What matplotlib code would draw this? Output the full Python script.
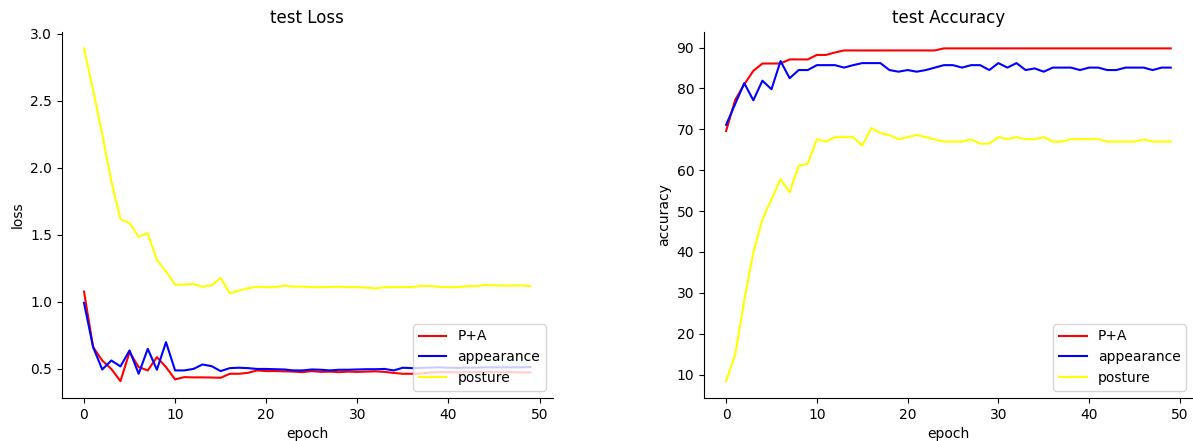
import matplotlib
matplotlib.use('Agg')
import matplotlib.pyplot as plt
import numpy as np

epochs = np.arange(50)

# test loss
loss_pa = [1.077, 0.663, 0.563, 0.50, 0.409, 0.625, 0.514, 0.489, 0.588, 0.514,
           0.422, 0.439, 0.437, 0.437, 0.436, 0.434, 0.464, 0.464, 0.471, 0.489,
           0.484, 0.484, 0.482, 0.480, 0.476, 0.484, 0.478, 0.480, 0.476, 0.480,
           0.478, 0.480, 0.482, 0.478, 0.470, 0.464, 0.464, 0.466, 0.474, 0.476,
           0.476, 0.474, 0.476, 0.476, 0.478, 0.476, 0.476, 0.476, 0.474, 0.474]
loss_app = [0.993, 0.663, 0.496, 0.563, 0.519, 0.638, 0.464, 0.650, 0.494, 0.700,
            0.489, 0.489, 0.500, 0.533, 0.521, 0.484, 0.506, 0.509, 0.506, 0.500,
            0.500, 0.498, 0.496, 0.489, 0.489, 0.496, 0.494, 0.489, 0.494, 0.494,
            0.496, 0.498, 0.498, 0.500, 0.489, 0.509, 0.506, 0.508, 0.510, 0.512,
            0.509, 0.508, 0.510, 0.510, 0.512, 0.512, 0.512, 0.512, 0.512, 0.514]
loss_pos = [2.891, 2.58, 2.25, 1.90, 1.618, 1.588, 1.486, 1.511, 1.313, 1.228,
            1.129, 1.129, 1.134, 1.114, 1.124, 1.179, 1.065, 1.084, 1.102, 1.112,
            1.110, 1.110, 1.122, 1.114, 1.114, 1.110, 1.110, 1.112, 1.114, 1.110,
            1.110, 1.107, 1.100, 1.110, 1.110, 1.112, 1.110, 1.119, 1.119, 1.112,
            1.110, 1.110, 1.117, 1.117, 1.127, 1.124, 1.122, 1.122, 1.124, 1.117]

# test accuracy
acc_pa = [69.6, 77.2, 81.0, 84.3, 86.1, 86.1, 86.1, 87.1, 87.1, 87.1,
          88.2, 88.2, 88.8, 89.3, 89.3, 89.3, 89.3, 89.3, 89.3, 89.3,
          89.3, 89.3, 89.3, 89.3, 89.8, 89.8, 89.8, 89.8, 89.8, 89.8,
          89.8, 89.8, 89.8, 89.8, 89.8, 89.8, 89.8, 89.8, 89.8, 89.8,
          89.8, 89.8, 89.8, 89.8, 89.8, 89.8, 89.8, 89.8, 89.8, 89.8]
acc_app = [71.1, 76.2, 81.3, 77.1, 81.9, 79.8, 86.7, 82.5, 84.5, 84.5,
           85.7, 85.7, 85.7, 85.1, 85.7, 86.2, 86.2, 86.2, 84.5, 84.1,
           84.5, 84.1, 84.5, 85.1, 85.7, 85.7, 85.1, 85.7, 85.7, 84.5,
           86.2, 85.1, 86.2, 84.5, 84.9, 84.1, 85.1, 85.1, 85.1, 84.5,
           85.1, 85.1, 84.5, 84.5, 85.1, 85.1, 85.1, 84.5, 85.1, 85.1]
acc_pos = [8.4, 14.9, 28.1, 39.9, 48.0, 52.9, 57.8, 54.6, 61.1, 61.6,
           67.6, 67.0, 68.1, 68.1, 68.1, 66.0, 70.3, 69.1, 68.6, 67.6,
           68.1, 68.6, 68.1, 67.5, 67.0, 67.0, 67.0, 67.5, 66.5, 66.5,
           68.1, 67.6, 68.1, 67.6, 67.6, 68.1, 67.0, 67.0, 67.6, 67.6,
           67.6, 67.6, 67.0, 67.0, 67.0, 67.0, 67.5, 67.0, 67.0, 67.0]

labels = ['P+A', 'appearance', 'posture']
colors = ['red', 'blue', 'yellow']

fig = plt.figure(figsize=(11.93, 4.41), dpi=100)
ax1 = fig.add_axes([0.0517, 0.098, 0.4116, 0.830])
ax2 = fig.add_axes([0.590, 0.098, 0.410, 0.830])

for ys, c, lb in zip([loss_pa, loss_app, loss_pos], colors, labels):
    ax1.plot(epochs, ys, color=c, label=lb)
ax1.set_title('test Loss')
ax1.set_xlabel('epoch')
ax1.set_ylabel('loss')
ax1.legend(loc='lower right')

for ys, c, lb in zip([acc_pa, acc_app, acc_pos], colors, labels):
    ax2.plot(epochs, ys, color=c, label=lb)
ax2.set_title('test Accuracy')
ax2.set_xlabel('epoch')
ax2.set_ylabel('accuracy')
ax2.legend(loc='lower right')

for ax in (ax1, ax2):
    ax.spines['top'].set_visible(False)
    ax.spines['right'].set_visible(False)

fig.savefig('out.png', dpi=100)
